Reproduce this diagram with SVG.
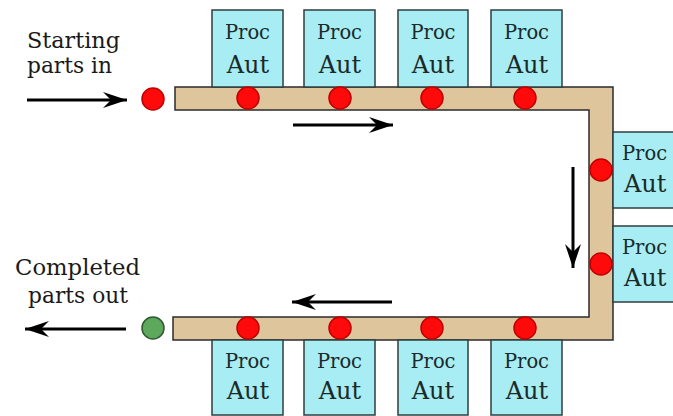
<svg xmlns="http://www.w3.org/2000/svg" width="673" height="416" viewBox="0 0 673 416">
<style>
.box{fill:#a8edf3;stroke:#2f3f3f;stroke-width:1.5}
.t1{font-family:"DejaVu Serif","Liberation Serif",serif;font-size:19.5px;fill:#1a2a2a;text-anchor:middle}
.t2{font-family:"DejaVu Serif","Liberation Serif",serif;font-size:24px;fill:#1a2a2a;text-anchor:middle}
.lbl{font-family:"DejaVu Serif","Liberation Serif",serif;font-size:21.5px;fill:#1a1a1a}
.red{fill:#ff0a0a;stroke:#c00000;stroke-width:1.5}
.grn{fill:#5ea85e;stroke:#2e5a2e;stroke-width:1.5}
.arr{stroke:#000;stroke-width:3;fill:none;marker-end:url(#ah)}
.belt{fill:#dfc59c;stroke:#2b2b2b;stroke-width:1.5}
</style>
<defs>
<marker id="ah" markerUnits="userSpaceOnUse" markerWidth="26" markerHeight="18" refX="24" refY="8" orient="auto" overflow="visible">
<path d="M24,8 L0,0 L8,8 L0,16 z" fill="#000"/>
</marker>
</defs>
<rect width="673" height="416" fill="#fff"/>
<g id="belt">
<path class="belt" d="M175,87 H613 V340 H173 V317 H589 V110 H175 Z"/>
</g>
<g id="top-procs">
<g id="p1"><rect class="box" x="212" y="10" width="71" height="77"/><text class="t1" x="247.5" y="39">Proc</text><text class="t2" x="248" y="73">Aut</text></g>
<g id="p2"><rect class="box" x="304" y="10" width="71" height="77"/><text class="t1" x="339.5" y="39">Proc</text><text class="t2" x="340" y="73">Aut</text></g>
<g id="p3"><rect class="box" x="398" y="10" width="70" height="77"/><text class="t1" x="433" y="39">Proc</text><text class="t2" x="433" y="73">Aut</text></g>
<g id="p4"><rect class="box" x="491" y="10" width="71" height="77"/><text class="t1" x="526.5" y="39">Proc</text><text class="t2" x="527" y="73">Aut</text></g>
</g>
<g id="right-procs">
<g id="p5"><rect class="box" x="613" y="132" width="80" height="76"/><text class="t1" x="622" y="160" style="text-anchor:start">Proc</text><text class="t2" x="624" y="192" style="text-anchor:start">Aut</text></g>
<g id="p6"><rect class="box" x="613" y="226" width="80" height="76"/><text class="t1" x="622" y="254" style="text-anchor:start">Proc</text><text class="t2" x="624" y="286" style="text-anchor:start">Aut</text></g>
</g>
<g id="bottom-procs">
<g id="p7"><rect class="box" x="212" y="340" width="71" height="75"/><text class="t1" x="247.5" y="368">Proc</text><text class="t2" x="248" y="399">Aut</text></g>
<g id="p8"><rect class="box" x="304" y="340" width="71" height="75"/><text class="t1" x="339.5" y="368">Proc</text><text class="t2" x="340" y="399">Aut</text></g>
<g id="p9"><rect class="box" x="398" y="340" width="70" height="75"/><text class="t1" x="433" y="368">Proc</text><text class="t2" x="433" y="399">Aut</text></g>
<g id="p10"><rect class="box" x="491" y="340" width="71" height="75"/><text class="t1" x="526.5" y="368">Proc</text><text class="t2" x="527" y="399">Aut</text></g>
</g>
<g id="parts">
<circle class="red" cx="153" cy="99" r="11"/>
<circle class="red" cx="248" cy="98" r="11"/>
<circle class="red" cx="340" cy="98" r="11"/>
<circle class="red" cx="432" cy="98" r="11"/>
<circle class="red" cx="525" cy="98" r="11"/>
<circle class="red" cx="601" cy="170" r="11"/>
<circle class="red" cx="601" cy="264" r="11"/>
<circle class="red" cx="248" cy="328" r="11"/>
<circle class="red" cx="340" cy="328" r="11"/>
<circle class="red" cx="432" cy="328" r="11"/>
<circle class="red" cx="525" cy="328" r="11"/>
<circle class="grn" cx="153" cy="328" r="11"/>
</g>
<g id="labels">
<text class="lbl" x="27" y="48" textLength="93" lengthAdjust="spacingAndGlyphs">Starting</text>
<text class="lbl" x="27" y="73" textLength="85" lengthAdjust="spacingAndGlyphs">parts in</text>
<text class="lbl" x="15" y="275" textLength="125" lengthAdjust="spacingAndGlyphs">Completed</text>
<text class="lbl" x="28" y="303" textLength="100" lengthAdjust="spacingAndGlyphs">parts out</text>
</g>
<g id="connectors">
<line class="arr" x1="27" y1="100" x2="127" y2="100"/>
<line class="arr" x1="293" y1="125" x2="393" y2="125"/>
<line class="arr" x1="573" y1="167" x2="573" y2="268"/>
<line class="arr" x1="392" y1="302" x2="292" y2="302"/>
<line class="arr" x1="126" y1="329" x2="25" y2="329"/>
</g>
</svg>
